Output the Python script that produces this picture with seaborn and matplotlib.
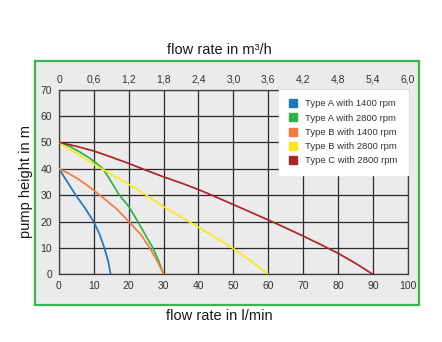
import matplotlib
matplotlib.use("Agg")
import matplotlib.pyplot as plt
from matplotlib.patches import Rectangle
from matplotlib.lines import Line2D
import seaborn as sns
import pandas as pd

# ---- data ----
a1400_x = [0, 2.4, 4.8, 7.5, 9.9, 11.7, 13.0, 14.1, 14.8]
a1400_y = [40, 35, 30, 25, 20, 15, 10, 5, 0]

a2800_x = [0, 3, 6, 8.8, 10.5, 12.6, 15, 17.3, 20, 22.6, 25, 26.9, 28.6, 30]
a2800_y = [50, 48.5, 46.3, 44, 42.3, 40, 35, 30, 25.7, 20, 14.4, 10, 5, 0]

b1400_x = [0, 2.5, 5, 7.5, 10, 13, 16.5, 20, 23.5, 26, 28.2, 30]
b1400_y = [40, 38.4, 36.5, 34.3, 31.8, 28.6, 24.8, 20, 15, 10, 5, 0]

b2800_x = [0, 2.5, 5, 10, 15, 20, 25, 30, 35, 40, 45, 50, 55, 60]
b2800_y = [50, 47.8, 45.8, 41.7, 37.9, 34.1, 30, 25.6, 21.7, 17.8, 13.8, 9.8, 5, 0]

c2800_x = [0, 5, 10, 15, 20, 25, 30, 35, 40, 45, 50, 55, 60, 65, 70, 75, 80, 85, 90]
c2800_y = [50, 48.5, 46.7, 44.4, 42, 39.4, 36.9, 34.6, 32.1, 29.3, 26.4, 23.5, 20.6,
           17.6, 14.5, 11.3, 8, 4.2, 0]

series_names = ["Type A with 1400 rpm", "Type A with 2800 rpm", "Type B with 1400 rpm",
                "Type B with 2800 rpm", "Type C with 2800 rpm"]
series_colors = ["#1f78be", "#2db34a", "#f47b3c", "#fbe917", "#a8262c"]

x_ticks = [0, 10, 20, 30, 40, 50, 60, 70, 80, 90, 100]
top_tick_labels = ["0", "0,6", "1,2", "1,8", "2,4", "3,0", "3,6", "4,2", "4,8", "5,4", "6,0"]
y_ticks = [0, 10, 20, 30, 40, 50, 60, 70]

# ---- build table ----
rows = []
for name, xs, ys in zip(series_names,
                        [a1400_x, a2800_x, b1400_x, b2800_x, c2800_x],
                        [a1400_y, a2800_y, b1400_y, b2800_y, c2800_y]):
    for x, y in zip(xs, ys):
        rows.append({"flow": x, "height": y, "series": name})
df = pd.DataFrame(rows)

sns.set_style("white")
plt.rcParams["font.family"] = ["Liberation Sans", "DejaVu Sans"]

fig = plt.figure(figsize=(4.42, 3.42), dpi=100)
fig.patch.set_facecolor("white")

# green frame with grey fill
frame = Rectangle((35 / 442, 1 - 304.5 / 342), (419 - 35) / 442, (304.5 - 60.5) / 342,
                  transform=fig.transFigure, facecolor="#ebebeb", edgecolor="#3cb44f",
                  linewidth=1.6, zorder=-10)
fig.patches.append(frame)

ax = fig.add_axes([59 / 442, 1 - 274.3 / 342, (407.7 - 59) / 442, (274.3 - 89.5) / 342])
ax.set_zorder(2)
ax.set_facecolor("#ebebeb")

sns.lineplot(data=df, x="flow", y="height", hue="series", palette=series_colors,
             hue_order=series_names, ax=ax, linewidth=1.25, sort=False,
             estimator=None, legend=False, zorder=3)

ax.set_xlim(0, 100)
ax.set_ylim(0, 70)
ax.set_xticks(x_ticks)
ax.set_yticks(y_ticks)
ax.set_xticklabels([str(t) for t in x_ticks])
ax.grid(True, color="#2a2a2a", linewidth=0.9)
ax.set_axisbelow(True)
for s in ax.spines.values():
    s.set_color("#3a3a3a")
    s.set_linewidth(0.9)
ax.tick_params(axis="both", length=0, labelsize=7.5, labelcolor="#333333")
ax.tick_params(axis="x", pad=5)
ax.tick_params(axis="y", pad=5)
ax.set_xlabel("")
ax.set_ylabel("")

top = ax.twiny()
top.set_zorder(1)
top.patch.set_visible(False)
top.set_xlim(ax.get_xlim())
top.set_xticks(x_ticks)
top.set_xticklabels(top_tick_labels)
top.tick_params(axis="x", length=0, labelsize=7.5, labelcolor="#333333", pad=3.5)
for s in top.spines.values():
    s.set_visible(False)

handles = [Line2D([0], [0], marker="s", linestyle="none", markersize=6,
                  markerfacecolor=c, markeredgecolor=c) for c in series_colors]
leg = ax.legend(handles, series_names, loc="upper right", borderaxespad=0,
                fontsize=6.8, frameon=True, fancybox=False, borderpad=1.05,
                labelspacing=0.55, handlelength=0.8, handletextpad=0.9)
leg.get_frame().set_facecolor("white")
leg.get_frame().set_edgecolor("white")
leg.get_frame().set_alpha(1)
for t in leg.get_texts():
    t.set_color("#333333")

fig.text(0.4955, 1 - 50 / 342, "flow rate in m³/h", ha="center", va="center",
         fontsize=10.5, color="#1a1a1a")
fig.text(0.4955, 1 - 316 / 342, "flow rate in l/min", ha="center", va="center",
         fontsize=10.5, color="#1a1a1a")
fig.text(26 / 442, 1 - 182 / 342, "pump height in m", ha="center", va="center",
         rotation=90, fontsize=10.5, color="#1a1a1a")

fig.savefig("out.png", dpi=100, facecolor="white")
